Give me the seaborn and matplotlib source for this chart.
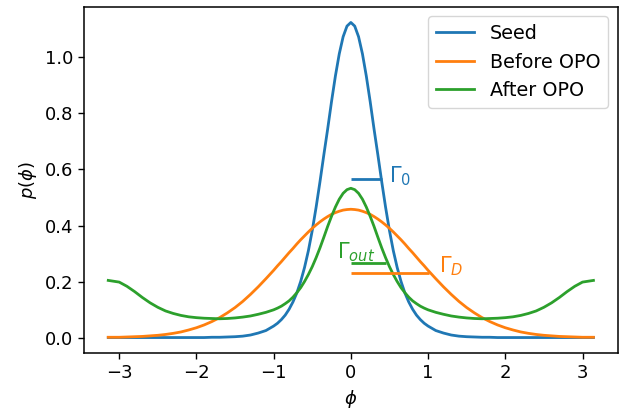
import numpy as np
import pandas as pd
import matplotlib
matplotlib.use("Agg")
import matplotlib.pyplot as plt
import seaborn as sns

phi = [-3.1416, -3.0, -2.9, -2.8, -2.7, -2.6, -2.5, -2.4, -2.3, -2.2, -2.1,
       -2.0, -1.9, -1.8, -1.7, -1.6, -1.5, -1.4, -1.3, -1.2, -1.1,
       -1.0, -0.95, -0.9, -0.85, -0.8, -0.75, -0.7, -0.65, -0.6, -0.55,
       -0.5, -0.45, -0.4, -0.35, -0.3, -0.25, -0.2, -0.15, -0.1, -0.05,
       0.0,
       0.05, 0.1, 0.15, 0.2, 0.25, 0.3, 0.35, 0.4, 0.45, 0.5,
       0.55, 0.6, 0.65, 0.7, 0.75, 0.8, 0.85, 0.9, 0.95, 1.0,
       1.1, 1.2, 1.3, 1.4, 1.5, 1.6, 1.7, 1.8, 1.9, 2.0,
       2.1, 2.2, 2.3, 2.4, 2.5, 2.6, 2.7, 2.8, 2.9, 3.0, 3.1416]

seed = [0.0, 0.0, 0.0, 0.0, 0.0, 0.0, 0.0, 0.0, 0.0, 0.0, 0.0,
        0.0, 0.0, 0.001, 0.001, 0.002, 0.003, 0.005, 0.009, 0.016, 0.025,
        0.041, 0.051, 0.064, 0.080, 0.101, 0.127, 0.159, 0.200, 0.250, 0.310,
        0.382, 0.465, 0.556, 0.652, 0.745, 0.843, 0.934, 1.013, 1.074, 1.112,
        1.125,
        1.112, 1.074, 1.013, 0.934, 0.843, 0.745, 0.652, 0.556, 0.465, 0.382,
        0.310, 0.250, 0.200, 0.159, 0.127, 0.101, 0.080, 0.064, 0.051, 0.041,
        0.025, 0.016, 0.009, 0.005, 0.003, 0.002, 0.001, 0.001, 0.0, 0.0,
        0.0, 0.0, 0.0, 0.0, 0.0, 0.0, 0.0, 0.0, 0.0, 0.0, 0.0]

before_opo = [0.001, 0.001, 0.002, 0.003, 0.004, 0.006, 0.008, 0.011, 0.015, 0.020, 0.027,
              0.035, 0.045, 0.057, 0.071, 0.088, 0.107, 0.129, 0.154, 0.181, 0.210,
              0.240, 0.256, 0.271, 0.287, 0.303, 0.318, 0.334, 0.349, 0.363, 0.377,
              0.390, 0.402, 0.413, 0.423, 0.432, 0.440, 0.446, 0.451, 0.455, 0.457,
              0.458,
              0.457, 0.455, 0.451, 0.446, 0.440, 0.432, 0.423, 0.413, 0.402, 0.390,
              0.377, 0.363, 0.349, 0.334, 0.318, 0.303, 0.287, 0.271, 0.256, 0.240,
              0.210, 0.181, 0.154, 0.129, 0.107, 0.088, 0.071, 0.057, 0.045, 0.035,
              0.027, 0.020, 0.015, 0.011, 0.008, 0.006, 0.004, 0.003, 0.002, 0.001, 0.001]

after_opo = [0.204, 0.198, 0.183, 0.164, 0.143, 0.124, 0.108, 0.095, 0.086, 0.079, 0.074,
             0.071, 0.069, 0.068, 0.067, 0.068, 0.070, 0.073, 0.077, 0.083, 0.090,
             0.099, 0.105, 0.112, 0.121, 0.131, 0.144, 0.160, 0.178, 0.200, 0.225,
             0.253, 0.285, 0.320, 0.358, 0.397, 0.433, 0.466, 0.494, 0.515, 0.528,
             0.533,
             0.528, 0.515, 0.494, 0.466, 0.433, 0.397, 0.358, 0.320, 0.285, 0.253,
             0.225, 0.200, 0.178, 0.160, 0.144, 0.131, 0.121, 0.112, 0.105, 0.099,
             0.090, 0.083, 0.077, 0.073, 0.070, 0.068, 0.067, 0.068, 0.069, 0.071,
             0.074, 0.079, 0.086, 0.095, 0.108, 0.124, 0.143, 0.164, 0.183, 0.198, 0.204]

series_names = ["Seed", "Before OPO", "After OPO"]

# half-maximum markers (height, half width) for Seed, Before OPO, After OPO
gamma_height = [0.565, 0.229, 0.267]
gamma_halfwidth = [0.40, 1.01, 0.45]
gamma_labels = [r"$\Gamma_0$", r"$\Gamma_D$", r"$\Gamma_{out}$"]

df = pd.DataFrame({
    "phi": phi * 3,
    "p": seed + before_opo + after_opo,
    "series": [series_names[0]] * len(phi) + [series_names[1]] * len(phi) + [series_names[2]] * len(phi),
})

colors = sns.color_palette("tab10", 3)

plt.rcParams["font.family"] = ["DejaVu Sans"]
plt.rcParams["mathtext.fontset"] = "dejavusans"

fig = plt.figure(figsize=(6.22, 4.11), dpi=100)
ax = fig.add_axes([84 / 622, 1 - 353.3 / 411, (617.7 - 84) / 622, (353.3 - 6.7) / 411])

sns.lineplot(data=df, x="phi", y="p", hue="series", hue_order=series_names,
             palette=colors, linewidth=2.0, ax=ax, sort=False, estimator=None)

label_pos = [(0.50, 0.575), (1.14, 0.255), (-0.18, 0.305)]
for i in range(3):
    ax.hlines(gamma_height[i], 0, gamma_halfwidth[i], color=colors[i], linewidth=2.0)
    ax.text(label_pos[i][0], label_pos[i][1], gamma_labels[i], color=colors[i],
            fontsize=15, ha="left", va="center")

ax.set_xlabel(r"$\phi$", fontsize=13)
ax.set_ylabel(r"$p(\phi)$", fontsize=13)
ax.tick_params(labelsize=13, length=4.5, width=1.0)
for s in ax.spines.values():
    s.set_linewidth(1.1)
ax.set_xticks([-3, -2, -1, 0, 1, 2, 3])
ax.set_xticklabels(["\u22123", "\u22122", "\u22121", "0", "1", "2", "3"])
ax.set_yticks([0.0, 0.2, 0.4, 0.6, 0.8, 1.0])

leg = ax.legend(loc="upper right", fontsize=13.8, title=None)

fig.savefig("out.png", dpi=100)
